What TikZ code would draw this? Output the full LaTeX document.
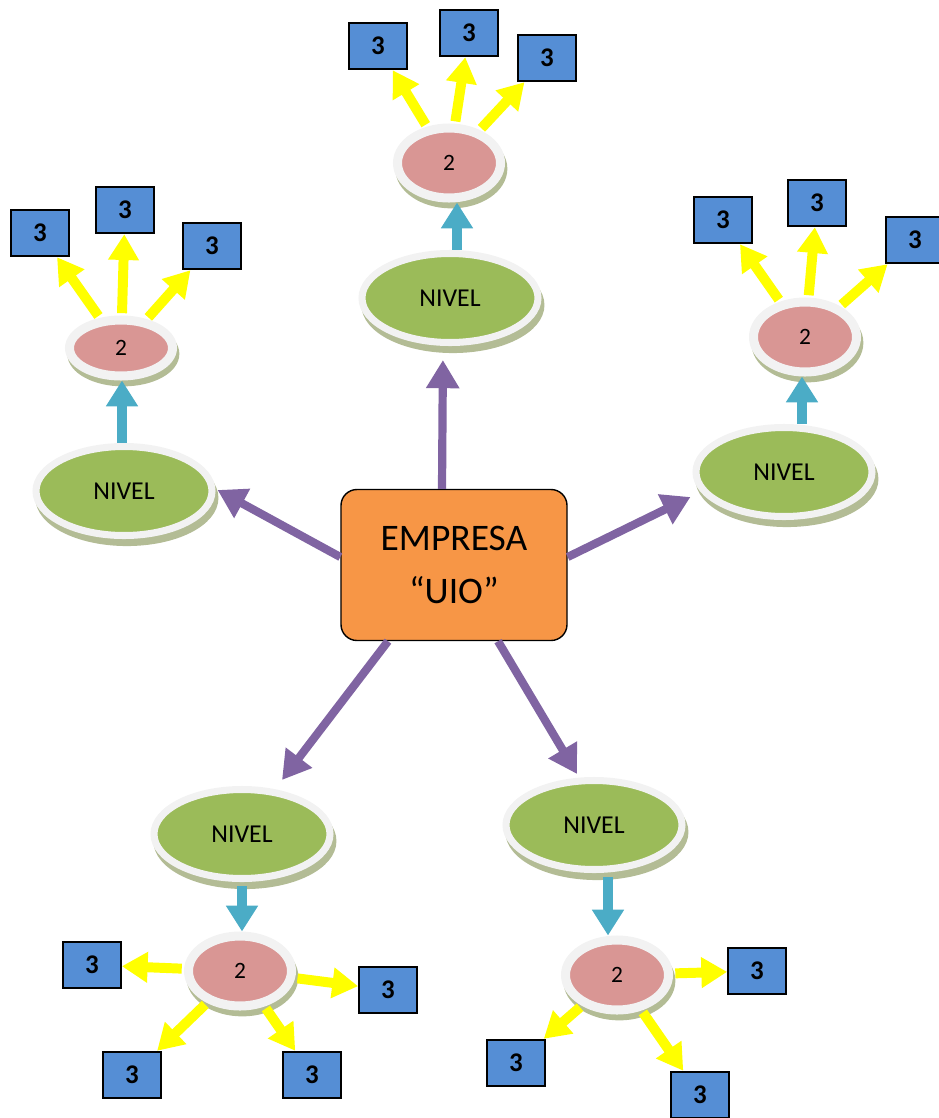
\documentclass[tikz,border=0pt]{standalone}
\usepackage{fontspec}
\setmainfont{Carlito}
\usetikzlibrary{shapes.geometric,arrows.meta,calc,shadows}
\definecolor{empresaorange}{HTML}{F79646}
\definecolor{nivelgreen}{HTML}{9BBB59}
\definecolor{dospink}{HTML}{D99694}
\definecolor{tresblue}{HTML}{558ED5}
\definecolor{rimgray}{HTML}{F2F2F2}
\definecolor{shadegreen}{HTML}{B3BC95}
\definecolor{arrowpurple}{HTML}{8064A2}
\definecolor{arrowcyan}{HTML}{4BACC6}
\definecolor{arrowyellow}{HTML}{FFFF00}
\tikzstyle{empresa} = [draw=black,line width=1.2pt,fill=empresaorange,rounded corners=0.48cm,minimum width=6.78cm,minimum height=4.53cm,align=center,font=\fontsize{32}{45}\selectfont]
\tikzstyle{nivel} = [ellipse,draw=rimgray,line width=6pt,fill=nivelgreen,minimum width=5.28cm,minimum height=2.67cm,inner sep=0pt,font=\fontsize{22}{26}\selectfont,general shadow={shadow xshift=2.5pt,shadow yshift=-6pt,fill=shadegreen,draw=shadegreen}]
\tikzstyle{dos} = [ellipse,draw=rimgray,line width=7.7pt,fill=dospink,minimum width=3.09cm,minimum height=2.1cm,inner sep=0pt,font=\fontsize{20}{24}\selectfont,general shadow={shadow xshift=2pt,shadow yshift=-5pt,fill=shadegreen,draw=shadegreen}]
\tikzstyle{tres} = [draw=black,line width=1.5pt,fill=tresblue,minimum width=1.74cm,minimum height=1.4cm,inner sep=0pt,font=\bfseries\fontsize{23}{26}\selectfont]
\tikzstyle{purplearrow} = [draw=arrowpurple,line width=7pt,-{Triangle[width=27pt,length=24pt]}]
\tikzstyle{cyanarrow} = [draw=arrowcyan,line width=9pt,-{Triangle[width=26pt,length=22pt]}]
\tikzstyle{yellowarrow} = [draw=arrowyellow,line width=8.5pt,shorten <=2pt,-{Triangle[width=25pt,length=22pt]}]

\begin{document}
\begin{tikzpicture}[x=0.03cm,y=-0.03cm]
\useasboundingbox (0,0) rectangle (938,1118);
%%% Center
\node[empresa] (empresa) at (454,565) {EMPRESA\\“UIO”};
%%% Level nodes
\foreach \g/\x/\y in {T/450/298, L/124/491, R/784/472, BL/242/834, BR/594/825} {
    \node[nivel] (nivel\g) at (\x,\y) {NIVEL};
}
\foreach \g/\x/\y in {T/449/163, R/805/337, BL/240/971, BR/617/975} {
    \node[dos] (dos\g) at (\x,\y) {2};
}
\node[dos,minimum height=1.68cm] (dosL) at (121,348) {2};
%%% Boxes 3
\foreach \g/\x/\y in {T1/378/46, T2/469/33, T3/547/58,
                      L1/40/233, L2/125/210, L3/212/246,
                      R1/723/220, R2/817/203, R3/915/240,
                      BL1/92/965, BL2/388/990, BL3/132/1075, BL4/312/1075,
                      BR1/757/971, BR2/516/1063, BR3/700/1095} {
    \node[tres] (tres\g) at (\x,\y) {\raisebox{-2pt}{3}};
}
%%% Arrows from the center
\draw[purplearrow,shorten >=12pt] ($(empresa.north)+(-12,0)$) -- ($(nivelT.south)+(-7,0)$);
\draw[purplearrow] ($(empresa.west)+(0,-8)$) -- ($(nivelL.east)+(2,-1)$);
\draw[purplearrow] ($(empresa.east)+(0,-8)$) -- ($(nivelR.west)+(-2,25)$);
\draw[purplearrow] ($(empresa.south)+(-66,0)$) -- ($(nivelBL.north)+(40,-6)$);
\draw[purplearrow] ($(empresa.south)+(44,0)$) -- ($(nivelBR.north)+(-17,-3)$);
%%% Level to 2
\draw[cyanarrow] ($(nivelT.north)+(7,0)$) -- ($(dosT.south)+(8,0)$);
\draw[cyanarrow] ($(nivelL.north)+(-2,0)$) -- ($(dosL.south)+(1,0)$);
\draw[cyanarrow] ($(nivelR.north)+(18,0)$) -- ($(dosR.south)+(-3,0)$);
\draw[cyanarrow] ($(nivelBL.south)+(0,4)$) -- ($(dosBL.north)+(2,0)$);
\draw[cyanarrow] ($(nivelBR.south)+(14,4)$) -- ($(dosBR.north)+(-9,0)$);
%%% 2 to boxes
\foreach \d/\g in {T/T1, T/T2, T/T3, L/L1, L/L2, L/L3, R/R1, R/R2, R/R3,
                   BL/BL1, BL/BL2, BL/BL3, BL/BL4, BR/BR1, BR/BR2, BR/BR3} {
    \draw[yellowarrow] (dos\d) -- (tres\g);
}
\end{tikzpicture}
\end{document}
